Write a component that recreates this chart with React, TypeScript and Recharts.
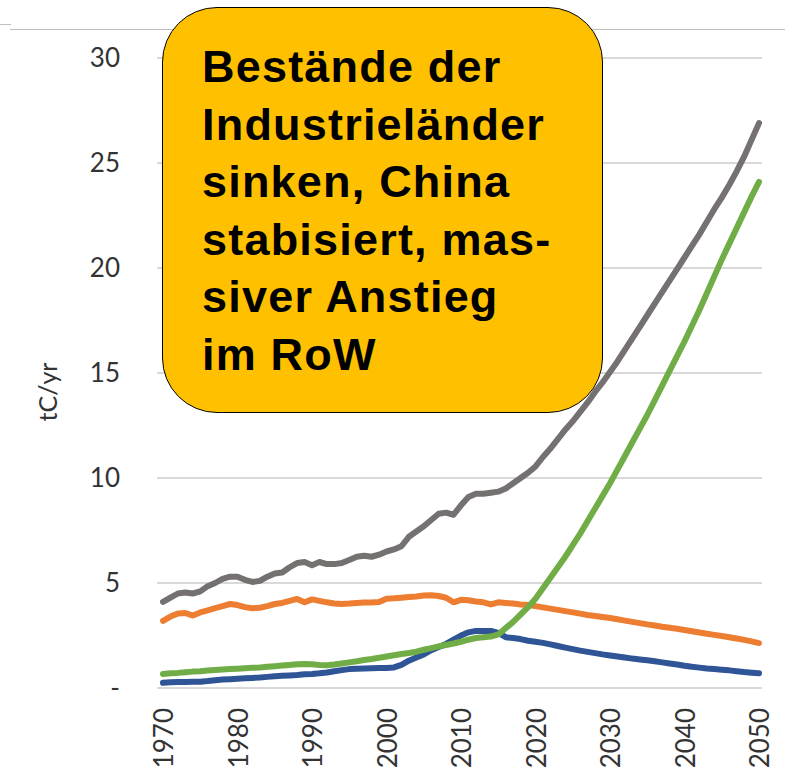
import { LineChart, Line, XAxis, YAxis, CartesianGrid } from "recharts";

const years = [
  1970, 1971, 1972, 1973, 1974, 1975, 1976, 1977, 1978, 1979,
  1980, 1981, 1982, 1983, 1984, 1985, 1986, 1987, 1988, 1989,
  1990, 1991, 1992, 1993, 1994, 1995, 1996, 1997, 1998, 1999,
  2000, 2001, 2002, 2003, 2004, 2005, 2006, 2007, 2008, 2009,
  2010, 2011, 2012, 2013, 2014, 2015, 2016, 2017, 2018, 2019,
  2020, 2021, 2022, 2023, 2024, 2025, 2026, 2027, 2028, 2029,
  2030, 2031, 2032, 2033, 2034, 2035, 2036, 2037, 2038, 2039,
  2040, 2041, 2042, 2043, 2044, 2045, 2046, 2047, 2048, 2049,
  2050,
];

// total
const total = [
  4.1, 4.3, 4.5, 4.55, 4.5, 4.6, 4.85, 5.0, 5.2, 5.3,
  5.3, 5.15, 5.05, 5.1, 5.3, 5.45, 5.5, 5.75, 5.95, 6.0,
  5.85, 6.0, 5.9, 5.9, 5.95, 6.1, 6.25, 6.3, 6.25, 6.35,
  6.5, 6.6, 6.75, 7.2, 7.45, 7.7, 8.0, 8.3, 8.35, 8.25,
  8.7, 9.1, 9.25, 9.25, 9.3, 9.35, 9.5, 9.75, 10.0, 10.25,
  10.55, 11.0, 11.4, 11.85, 12.3, 12.7, 13.15, 13.6, 14.1, 14.55,
  15.05, 15.55, 16.1, 16.65, 17.2, 17.75, 18.3, 18.85, 19.4, 19.95,
  20.5, 21.05, 21.6, 22.2, 22.8, 23.35, 23.95, 24.6, 25.3, 26.1,
  26.9,
];

// Industrieländer
const industrial = [
  3.2, 3.4, 3.55, 3.57, 3.45, 3.6, 3.7, 3.8, 3.9, 4.0,
  3.95, 3.85, 3.8, 3.82, 3.9, 4.0, 4.05, 4.15, 4.24, 4.08,
  4.22, 4.15, 4.08, 4.02, 4.0, 4.02, 4.05, 4.07, 4.07, 4.1,
  4.25, 4.27, 4.3, 4.33, 4.36, 4.4, 4.42, 4.38, 4.3, 4.08,
  4.2, 4.18, 4.12, 4.08, 3.98, 4.08, 4.05, 4.02, 3.98, 3.95,
  3.9, 3.84, 3.78, 3.72, 3.66, 3.6, 3.54, 3.48, 3.43, 3.38,
  3.33, 3.27, 3.21, 3.15, 3.09, 3.03, 2.98, 2.92, 2.87, 2.82,
  2.76, 2.7, 2.64, 2.58, 2.53, 2.48, 2.42, 2.36, 2.29, 2.22,
  2.14,
];

// China
const china = [
  0.25, 0.27, 0.28, 0.29, 0.3, 0.3, 0.33, 0.37, 0.4, 0.42,
  0.44, 0.46, 0.48, 0.5, 0.53, 0.56, 0.58, 0.6, 0.62, 0.65,
  0.67, 0.7, 0.74, 0.8, 0.85, 0.9, 0.92, 0.93, 0.94, 0.95,
  0.95, 0.98, 1.1, 1.3, 1.45, 1.6, 1.8, 1.95, 2.1, 2.3,
  2.5, 2.65, 2.72, 2.72, 2.72, 2.62, 2.42, 2.38, 2.33, 2.25,
  2.2, 2.15, 2.08, 2.0, 1.92, 1.85, 1.78, 1.72, 1.66, 1.6,
  1.55, 1.5, 1.45, 1.4, 1.36, 1.32, 1.27, 1.22, 1.17, 1.12,
  1.06, 1.01, 0.97, 0.93, 0.9, 0.87, 0.84, 0.8, 0.76, 0.73,
  0.7,
];

// Rest of World
const row = [
  0.67, 0.7, 0.72, 0.75, 0.78, 0.8, 0.83, 0.86, 0.88, 0.9,
  0.92, 0.94, 0.96, 0.98, 1.01, 1.04, 1.07, 1.1, 1.13, 1.14,
  1.13, 1.1, 1.08, 1.12, 1.17, 1.22, 1.27, 1.33, 1.38, 1.44,
  1.5, 1.56, 1.62, 1.67, 1.73, 1.82, 1.9, 1.98, 2.05, 2.12,
  2.2, 2.3, 2.38, 2.42, 2.45, 2.55, 2.85, 3.15, 3.5, 3.85,
  4.25, 4.75, 5.25, 5.75, 6.25, 6.8, 7.35, 7.95, 8.55, 9.15,
  9.75, 10.4, 11.05, 11.7, 12.35, 13.0, 13.7, 14.4, 15.1, 15.8,
  16.5, 17.25, 18.0, 18.8, 19.6, 20.4, 21.15, 21.9, 22.65, 23.4,
  24.1,
];

const xTicks = [1970, 1980, 1990, 2000, 2010, 2020, 2030, 2040, 2050];
const yTicks = [0, 5, 10, 15, 20, 25, 30];

const data = years.map((year, i) => ({
  year,
  total: total[i],
  industrial: industrial[i],
  china: china[i],
  row: row[i],
}));

const labelFont = "Lato, 'Open Sans', sans-serif";

function YearTick({ x, y, payload }: any) {
  const ty = y + 12;
  return (
    <text
      x={x}
      y={ty}
      transform={`rotate(-90, ${x}, ${ty})`}
      textAnchor="end"
      dominantBaseline="central"
      fill="#333"
      fontSize={26}
      fontFamily={labelFont}
    >
      {payload.value}
    </text>
  );
}

function AxisTitle() {
  return (
    <text
      x={47}
      y={392}
      transform="rotate(-90, 47, 392)"
      textAnchor="middle"
      dominantBaseline="central"
      fill="#333"
      fontSize={25}
      fontFamily={labelFont}
    >
      tC/yr
    </text>
  );
}

export default function App() {
  return (
    <div
      style={{
        position: "absolute",
        left: 0,
        top: 0,
        width: 785,
        height: 772,
        background: "#fff",
        overflow: "hidden",
      }}
    >
      <div style={{ position: "absolute", left: 0, top: 24, width: 11, height: 1, background: "#bfbfbf" }} />
      <div style={{ position: "absolute", left: 10, top: 29, width: 775, height: 1, background: "#bfbfbf" }} />

      <LineChart
        width={785}
        height={772}
        data={data}
        margin={{ top: 58, right: 23, left: 0, bottom: 0 }}
      >
        <CartesianGrid vertical={false} stroke="#d9d9d9" strokeWidth={2} />
        <XAxis
          dataKey="year"
          type="number"
          domain={[1970, 2050]}
          ticks={xTicks}
          padding={{ left: 6, right: 3 }}
          axisLine={false}
          tickLine={false}
          height={84}
          tick={<YearTick />}
          interval={0}
        />
        <YAxis
          width={157}
          domain={[0, 30]}
          ticks={yTicks}
          axisLine={false}
          tickLine={false}
          tickSize={0}
          tickMargin={37}
          tick={{ fill: "#333", fontSize: 26, fontFamily: labelFont }}
          tickFormatter={(v: number) => (v === 0 ? "-" : String(v))}
          label={{ content: () => <AxisTitle /> }}
        />
        <Line type="linear" dataKey="total" stroke="#767171" strokeWidth={6} dot={false} strokeLinecap="round" strokeLinejoin="round" isAnimationActive={false} />
        <Line type="linear" dataKey="industrial" stroke="#ED7D31" strokeWidth={6} dot={false} strokeLinecap="round" strokeLinejoin="round" isAnimationActive={false} />
        <Line type="linear" dataKey="china" stroke="#2F5597" strokeWidth={6} dot={false} strokeLinecap="round" strokeLinejoin="round" isAnimationActive={false} />
        <Line type="linear" dataKey="row" stroke="#70AD47" strokeWidth={6} dot={false} strokeLinecap="round" strokeLinejoin="round" isAnimationActive={false} />
      </LineChart>

      <div
        style={{
          position: "absolute",
          left: 162,
          top: 7,
          width: 441,
          height: 406,
          boxSizing: "border-box",
          background: "#FFC000",
          border: "1.5px solid #000",
          borderRadius: 55,
          paddingLeft: 39,
          paddingTop: 30,
          fontFamily: "'Liberation Sans', Arial, sans-serif",
          fontWeight: 700,
          fontSize: 45,
          letterSpacing: 1.2,
          lineHeight: "57.6px",
          color: "#000",
          whiteSpace: "pre",
        }}
      >
        {"Bestände der\nIndustrieländer\nsinken, China\nstabisiert, mas-\nsiver Anstieg\nim RoW"}
      </div>
    </div>
  );
}
